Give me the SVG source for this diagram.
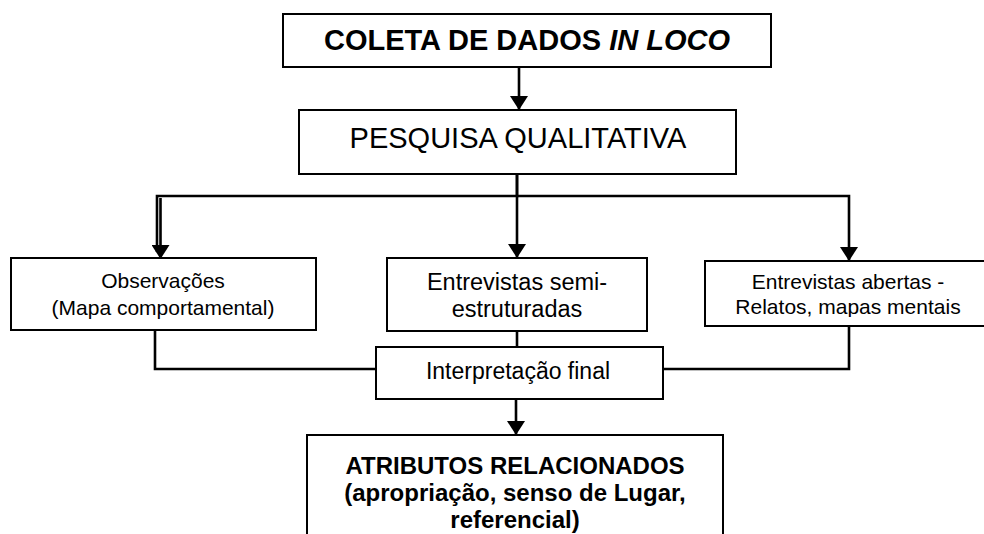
<svg xmlns="http://www.w3.org/2000/svg" width="984" height="534" viewBox="0 0 984 534">
  <style>
    .box { fill: #ffffff; stroke: #000000; stroke-width: 2; }
    .conn { fill: none; stroke: #000000; stroke-width: 2.6; }
    text { font-family: "Liberation Sans", Arial, sans-serif; fill: #000000; text-anchor: middle; }
    .b { font-weight: bold; }
  </style>
  <defs>
    <marker id="ah" viewBox="0 0 14 18" refX="14" refY="9" markerWidth="14" markerHeight="18" markerUnits="userSpaceOnUse" orient="auto">
      <path d="M0,0 L14,9 L0,18 z" fill="#000000"/>
    </marker>
    <clipPath id="clipR">
      <rect x="700" y="262" width="290" height="55"/>
    </clipPath>
  </defs>
  <rect width="984" height="534" fill="#ffffff"/>

  <g id="connectors">
    <path class="conn" d="M519,67 V110" marker-end="url(#ah)"/>
    <path class="conn" d="M517,174 V196 H157 V252"/>
    <path class="conn" d="M160.5,198 V259" marker-end="url(#ah)"/>
    <path class="conn" d="M517,174 V258" marker-end="url(#ah)"/>
    <path class="conn" d="M517,196 H849 V261" marker-end="url(#ah)"/>
    <path class="conn" d="M155,330 V369 H376"/>
    <path class="conn" d="M517,331 V347"/>
    <path class="conn" d="M849,326 V369 H663"/>
    <path class="conn" d="M516,399 V435" marker-end="url(#ah)"/>
  </g>

  <g id="coleta">
    <rect class="box" x="283" y="14" width="488" height="53"/>
    <text x="527" y="50" font-size="29" class="b">COLETA DE DADOS <tspan font-style="italic">IN LOCO</tspan></text>
  </g>

  <g id="pesquisa">
    <rect class="box" x="299" y="110" width="437" height="64"/>
    <text x="518" y="148" font-size="29">PESQUISA QUALITATIVA</text>
  </g>

  <g id="observacoes">
    <rect class="box" x="11" y="258" width="305" height="72"/>
    <text x="163" y="288" font-size="21">Observações</text>
    <text x="163" y="315" font-size="21">(Mapa comportamental)</text>
  </g>

  <g id="semi">
    <rect class="box" x="387" y="258" width="260" height="73"/>
    <text x="517" y="290" font-size="23.5">Entrevistas semi-</text>
    <text x="517" y="317" font-size="23.5">estruturadas</text>
  </g>

  <g id="abertas">
    <rect class="box" x="705" y="261" width="286" height="65"/>
    <g clip-path="url(#clipR)">
      <text x="848" y="289" font-size="21">Entrevistas abertas -</text>
      <text x="848" y="314" font-size="21">Relatos, mapas mentais</text>
    </g>
  </g>

  <g id="interpretacao">
    <rect class="box" x="376" y="347" width="287" height="52"/>
    <text x="518" y="379" font-size="23">Interpretação final</text>
  </g>

  <g id="atributos">
    <rect class="box" x="307" y="435" width="416" height="110"/>
    <text x="515" y="474" font-size="24" class="b">ATRIBUTOS RELACIONADOS</text>
    <text x="515" y="501" font-size="24" class="b">(apropriação, senso de Lugar,</text>
    <text x="515" y="528" font-size="24" class="b">referencial)</text>
  </g>
</svg>
